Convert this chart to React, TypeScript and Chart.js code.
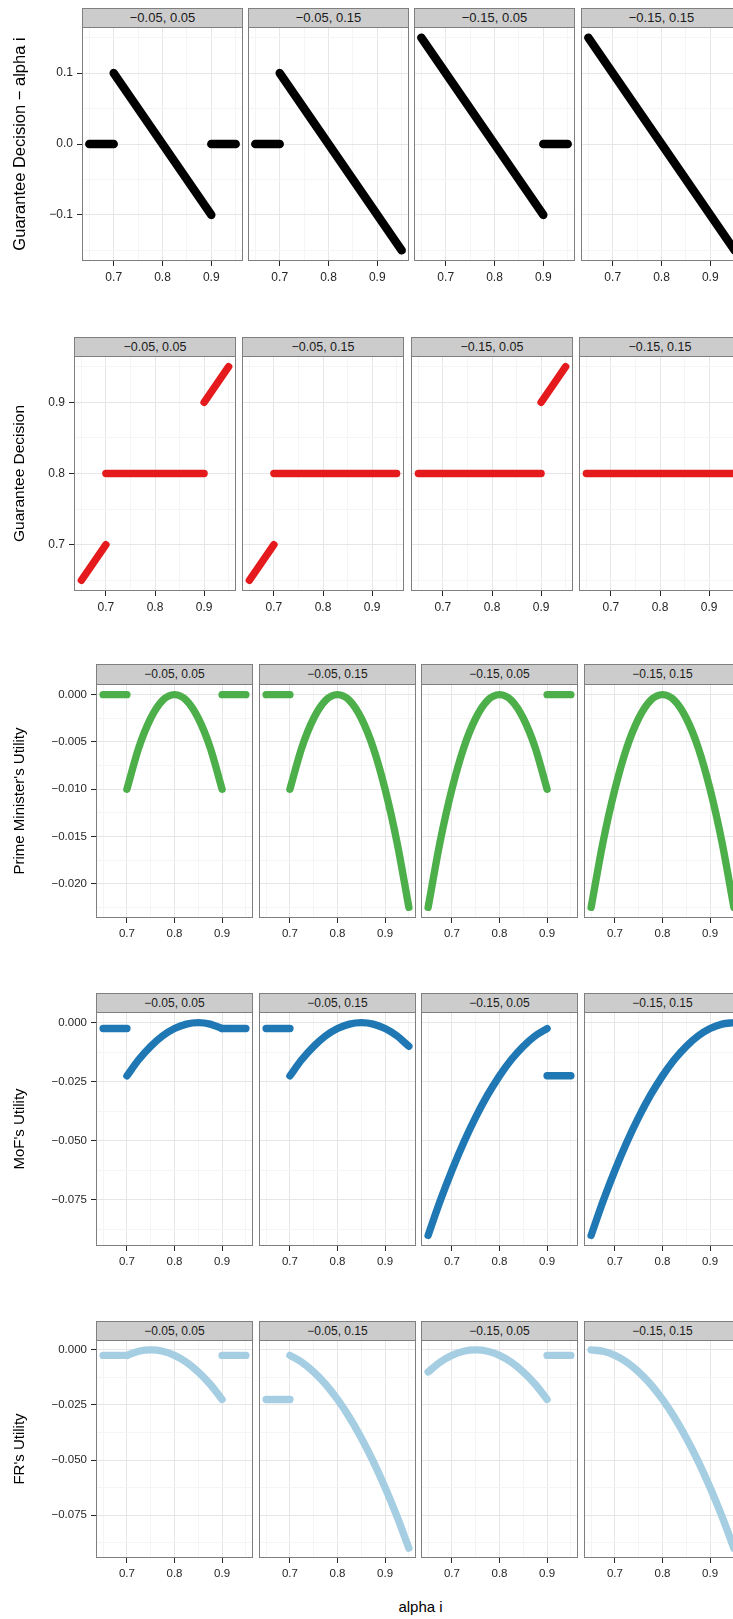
import React, { useEffect, useRef } from "react";
import { Chart, registerables } from "chart.js";

Chart.register(...registerables);

const FONT = "'Liberation Sans', Arial, Helvetica, sans-serif";
Chart.defaults.font.family = FONT;

type Pt = [number, number];

// ---------- text ----------
const facetLabels = ["−0.05, 0.05", "−0.05, 0.15", "−0.15, 0.05", "−0.15, 0.15"];
const rowTitles = [
  "Guarantee Decision − alpha i",
  "Guarantee Decision",
  "Prime Minister's Utility",
  "MoF's Utility",
  "FR's Utility",
];
const xTitle = "alpha i";

// ---------- scales ----------
const xLimits: Pt = [0.635, 0.965];
const xMinorStep = 0.05;
const xMajorStep = 0.1;
const yLimits: Pt[] = [
  [-0.165, 0.165],
  [0.635, 0.965],
  [-0.023625, 0.001125],
  [-0.0945, 0.0045],
  [-0.0945, 0.0045],
];
const yMinorSteps = [0.05, 0.05, 0.0025, 0.0125, 0.0125];
const yMajorSteps = [0.1, 0.1, 0.005, 0.025, 0.025];
const yDigits = [1, 1, 3, 3, 3];

// ---------- data (alpha i, value) ----------
// Row 1: Guarantee Decision − alpha i
const gapF1: Pt[][] = [[[0.65, 0], [0.7, 0]], [[0.7, 0.1], [0.9, -0.1]], [[0.9, 0], [0.95, 0]]];
const gapF2: Pt[][] = [[[0.65, 0], [0.7, 0]], [[0.7, 0.1], [0.95, -0.15]]];
const gapF3: Pt[][] = [[[0.65, 0.15], [0.9, -0.1]], [[0.9, 0], [0.95, 0]]];
const gapF4: Pt[][] = [[[0.65, 0.15], [0.95, -0.15]]];

// Row 2: Guarantee Decision
const gdF1: Pt[][] = [[[0.65, 0.65], [0.7, 0.7]], [[0.7, 0.8], [0.9, 0.8]], [[0.9, 0.9], [0.95, 0.95]]];
const gdF2: Pt[][] = [[[0.65, 0.65], [0.7, 0.7]], [[0.7, 0.8], [0.95, 0.8]]];
const gdF3: Pt[][] = [[[0.65, 0.8], [0.9, 0.8]], [[0.9, 0.9], [0.95, 0.95]]];
const gdF4: Pt[][] = [[[0.65, 0.8], [0.95, 0.8]]];

// Row 3: Prime Minister's Utility
const pmCurve: Pt[] = [
  [0.65, -0.0225], [0.675, -0.0156], [0.7, -0.01], [0.725, -0.0056], [0.75, -0.0025],
  [0.775, -0.0006], [0.8, 0], [0.825, -0.0006], [0.85, -0.0025], [0.875, -0.0056],
  [0.9, -0.01], [0.925, -0.0156], [0.95, -0.0225],
];
const pmFlatLow: Pt[] = [[0.65, 0], [0.7, 0]];
const pmFlatHigh: Pt[] = [[0.9, 0], [0.95, 0]];

// Row 4: MoF's Utility
const mofCurveA: Pt[] = [
  [0.7, -0.0225], [0.725, -0.0156], [0.75, -0.01], [0.775, -0.0056], [0.8, -0.0025],
  [0.825, -0.0006], [0.85, 0], [0.875, -0.0006], [0.9, -0.0025], [0.925, -0.0056], [0.95, -0.01],
];
const mofCurveB: Pt[] = [
  [0.65, -0.09], [0.675, -0.0756], [0.7, -0.0625], [0.725, -0.0506], [0.75, -0.04],
  [0.775, -0.0306], [0.8, -0.0225], [0.825, -0.0156], [0.85, -0.01], [0.875, -0.0056],
  [0.9, -0.0025], [0.925, -0.0006], [0.95, 0],
];
const mofFlatLow: Pt[] = [[0.65, -0.0025], [0.7, -0.0025]];
const mofFlatHigh: Pt[] = [[0.9, -0.0025], [0.95, -0.0025]];
const mofFlatDeep: Pt[] = [[0.9, -0.0225], [0.95, -0.0225]];

// Row 5: FR's Utility
const frCurveA: Pt[] = [
  [0.65, -0.01], [0.675, -0.0056], [0.7, -0.0025], [0.725, -0.0006], [0.75, 0],
  [0.775, -0.0006], [0.8, -0.0025], [0.825, -0.0056], [0.85, -0.01], [0.875, -0.0156], [0.9, -0.0225],
];
const frCurveB: Pt[] = [
  [0.65, 0], [0.675, -0.0006], [0.7, -0.0025], [0.725, -0.0056], [0.75, -0.01],
  [0.775, -0.0156], [0.8, -0.0225], [0.825, -0.0306], [0.85, -0.04], [0.875, -0.0506],
  [0.9, -0.0625], [0.925, -0.0756], [0.95, -0.09],
];
const frFlatLow: Pt[] = [[0.65, -0.0025], [0.7, -0.0025]];
const frFlatDeep: Pt[] = [[0.65, -0.0225], [0.7, -0.0225]];
const frFlatHigh: Pt[] = [[0.9, -0.0025], [0.95, -0.0025]];

const between = (c: Pt[], a: number, b: number) => c.filter(([x]) => x >= a - 1e-9 && x <= b + 1e-9);

const rowData: Pt[][][][] = [
  [gapF1, gapF2, gapF3, gapF4],
  [gdF1, gdF2, gdF3, gdF4],
  [
    [pmFlatLow, between(pmCurve, 0.7, 0.9), pmFlatHigh],
    [pmFlatLow, between(pmCurve, 0.7, 0.95)],
    [between(pmCurve, 0.65, 0.9), pmFlatHigh],
    [pmCurve],
  ],
  [
    [mofFlatLow, between(mofCurveA, 0.7, 0.9), mofFlatHigh],
    [mofFlatLow, mofCurveA],
    [between(mofCurveB, 0.65, 0.9), mofFlatDeep],
    [mofCurveB],
  ],
  [
    [frFlatLow, between(frCurveA, 0.7, 0.9), frFlatHigh],
    [frFlatDeep, between(frCurveB, 0.7, 0.95)],
    [frCurveA, frFlatHigh],
    [frCurveB],
  ],
];

// ---------- styles & layout ----------
const rowColors = ["#000000", "#E41A1C", "#4DAF4A", "#1F78B4", "#A6CEE3"];
const rowLineWidths = [8.5, 7.4, 7.4, 7.4, 7.4];
const rowStripTop = [8, 337, 664, 993, 1321];
const rowPlotTop = [27, 356, 684, 1012, 1340];
const rowPlotBottom = [261, 591, 918, 1246, 1558];
const rowPanelLeft = [81.5, 74.3, 95.7, 95.7, 95.7];
const rowPanelWidth = [160.8, 162.3, 156.6, 156.6, 156.6];
const rowPanelPitch = [166.4, 168.1, 162.8, 162.8, 162.8];
const rowStripFont = [13, 12.5, 12, 12, 12];
const rowTickFont = [12, 12, 11.5, 11.5, 11.5];
const rowTitleFont = [16.5, 15.5, 15, 15, 15];
const X_AXIS_H = 30;
const MAJOR_GRID = "#E6E6E6";
const MINOR_GRID = "#F5F5F5";
const BORDER = "#7F7F7F";
const TICK_TEXT = "#262626";

const isMajor = (v: number, step: number) => Math.abs(v / step - Math.round(v / step)) < 1e-6;
const fmt = (v: number, d: number) => {
  const s = (Math.abs(v) < 1e-12 ? 0 : v).toFixed(d);
  return s.startsWith("-") ? "−" + s.slice(1) : s;
};

type Panel = {
  r: number; c: number; L: number; W: number;
  cx: number; cy: number; cw: number; ch: number;
};

const panels: Panel[] = [];
for (let r = 0; r < 5; r++) {
  for (let c = 0; c < 4; c++) {
    const L = Math.round(rowPanelLeft[r] + c * rowPanelPitch[r]);
    const W = Math.round(rowPanelWidth[r]);
    const cx = c === 0 ? 0 : L;
    const cw = c === 0 ? L + W : W;
    const ch = rowPlotBottom[r] - rowPlotTop[r] + X_AXIS_H;
    panels.push({ r, c, L, W, cx, cy: rowPlotTop[r], cw, ch });
  }
}

const panelBorder = {
  id: "panelBorder",
  afterDraw(chart: any) {
    const { ctx, chartArea: a } = chart;
    ctx.save();
    ctx.strokeStyle = BORDER;
    ctx.lineWidth = 1;
    ctx.strokeRect(a.left + 0.5, a.top + 0.5, a.right - a.left - 1, a.bottom - a.top - 1);
    ctx.restore();
  },
};

const zeroPad = (s: any) => {
  s.paddingLeft = 0;
  s.paddingRight = 0;
  s.paddingTop = 0;
  s.paddingBottom = 0;
};

function buildConfig(p: Panel): any {
  const { r, c } = p;
  const segs = rowData[r][c];
  const first = c === 0;
  return {
    type: "line",
    data: {
      datasets: segs.map((seg) => ({
        data: seg.map(([x, y]) => ({ x, y })),
        borderColor: rowColors[r],
        backgroundColor: rowColors[r],
        borderWidth: rowLineWidths[r],
        borderCapStyle: "round",
        borderJoinStyle: "round",
        cubicInterpolationMode: "monotone",
        pointRadius: 0,
        fill: false,
      })),
    },
    options: {
      animation: false,
      responsive: false,
      events: [],
      layout: { padding: 0 },
      plugins: { legend: { display: false }, tooltip: { enabled: false }, title: { display: false } },
      scales: {
        x: {
          type: "linear",
          position: "bottom",
          min: xLimits[0],
          max: xLimits[1],
          ticks: {
            stepSize: xMinorStep,
            includeBounds: false,
            autoSkip: false,
            maxRotation: 0,
            minRotation: 0,
            padding: 4,
            color: TICK_TEXT,
            font: { family: FONT, size: rowTickFont[r] },
            callback: (v: any) => (isMajor(Number(v), xMajorStep) ? fmt(Number(v), 1) : ""),
          },
          grid: {
            color: (ctx: any) => (ctx.tick && isMajor(ctx.tick.value, xMajorStep) ? MAJOR_GRID : MINOR_GRID),
            lineWidth: 1,
            drawTicks: true,
            tickLength: 5,
            tickWidth: 1,
            tickColor: (ctx: any) => (ctx.tick && isMajor(ctx.tick.value, xMajorStep) ? TICK_TEXT : "rgba(0,0,0,0)"),
          },
          border: { display: false },
          afterFit: (s: any) => {
            s.height = X_AXIS_H;
            zeroPad(s);
          },
        },
        y: {
          type: "linear",
          position: "left",
          min: yLimits[r][0],
          max: yLimits[r][1],
          ticks: {
            display: first,
            stepSize: yMinorSteps[r],
            includeBounds: false,
            autoSkip: false,
            padding: 4,
            color: TICK_TEXT,
            font: { family: FONT, size: rowTickFont[r] },
            callback: (v: any) => (isMajor(Number(v), yMajorSteps[r]) ? fmt(Number(v), yDigits[r]) : ""),
          },
          grid: {
            color: (ctx: any) => (ctx.tick && isMajor(ctx.tick.value, yMajorSteps[r]) ? MAJOR_GRID : MINOR_GRID),
            lineWidth: 1,
            drawTicks: first,
            tickLength: 5,
            tickWidth: 1,
            tickColor: (ctx: any) => (ctx.tick && isMajor(ctx.tick.value, yMajorSteps[r]) ? TICK_TEXT : "rgba(0,0,0,0)"),
          },
          border: { display: false },
          title: {
            display: first,
            text: rowTitles[r],
            color: "#000000",
            font: { family: FONT, size: rowTitleFont[r] },
            padding: { top: 20 - (rowTitleFont[r] * 1.2) / 2, bottom: 0 },
          },
          afterFit: (s: any) => {
            s.width = first ? p.L : 0;
            zeroPad(s);
          },
        },
      },
    },
    plugins: [panelBorder],
  };
}

export default function App() {
  const refs = useRef<(HTMLCanvasElement | null)[]>([]);

  useEffect(() => {
    const charts: Chart[] = [];
    panels.forEach((p, i) => {
      const cv = refs.current[i];
      if (!cv) return;
      charts.push(new Chart(cv, buildConfig(p)));
    });
    return () => charts.forEach((ch) => ch.destroy());
  }, []);

  return (
    <div
      style={{
        position: "absolute",
        left: 0,
        top: 0,
        width: 733,
        height: 1619,
        overflow: "hidden",
        background: "#ffffff",
        fontFamily: FONT,
      }}
    >
      {panels.map((p, i) => (
        <React.Fragment key={i}>
          <div
            style={{
              position: "absolute",
              left: p.L,
              top: rowStripTop[p.r],
              width: p.W,
              height: rowPlotTop[p.r] - rowStripTop[p.r] + 1,
              boxSizing: "border-box",
              border: `1px solid ${BORDER}`,
              background: "#CCCCCC",
              color: "#1a1a1a",
              fontSize: rowStripFont[p.r],
              lineHeight: `${rowPlotTop[p.r] - rowStripTop[p.r] - 1}px`,
              textAlign: "center",
              whiteSpace: "nowrap",
              overflow: "hidden",
            }}
          >
            {facetLabels[p.c]}
          </div>
          <canvas
            ref={(el) => {
              refs.current[i] = el;
            }}
            width={p.cw}
            height={p.ch}
            style={{ position: "absolute", left: p.cx, top: p.cy, width: p.cw, height: p.ch }}
          />
        </React.Fragment>
      ))}
      <div
        style={{
          position: "absolute",
          left: 320,
          width: 201,
          top: 1597,
          height: 20,
          lineHeight: "20px",
          textAlign: "center",
          fontSize: 15,
          color: "#000000",
        }}
      >
        {xTitle}
      </div>
    </div>
  );
}
